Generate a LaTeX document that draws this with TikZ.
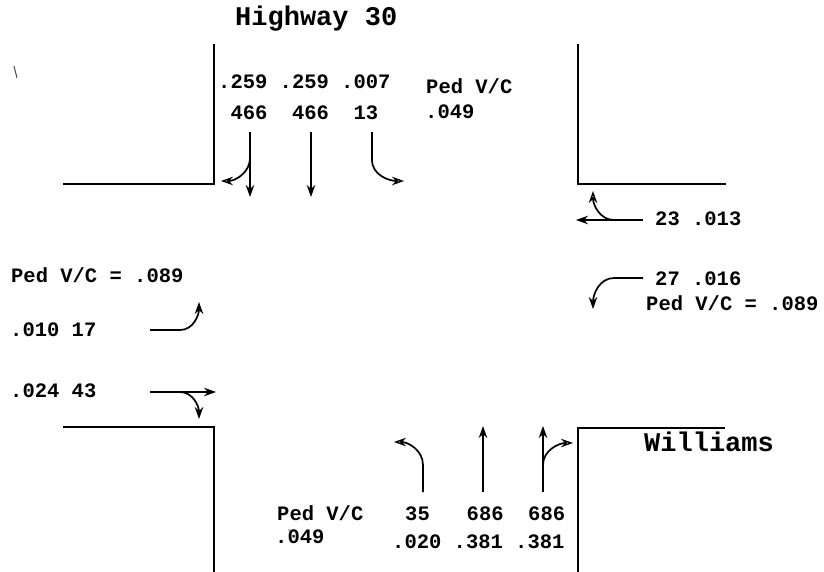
\documentclass[tikz,border=0pt]{standalone}
\usepackage{fontspec}
\setmainfont{Liberation Mono}
\usetikzlibrary{arrows.meta}
\begin{document}
\begin{tikzpicture}[x=1pt,y=-1pt,
  curb/.style={line width=1.8pt, line cap=rect, line join=miter},
  thru/.style={line width=1.7pt, -{Stealth[length=12pt,width=8.5pt]}},
  turn/.style={line width=1.7pt, -{Stealth[open,length=12pt,width=8.5pt,line width=1.4pt]}},
  lbl/.style={anchor=base west, inner sep=0pt, font=\fontsize{20.5}{24}\selectfont\bfseries},
  big/.style={anchor=base west, inner sep=0pt, font=\fontsize{27}{30}\selectfont\bfseries}]
\useasboundingbox (0,0) rectangle (824,571);
\fill[white] (0,0) rectangle (824,571);

% curbs
\draw[curb] (64,184) -- (214,184) -- (214,45);
\draw[curb] (578,45) -- (578,184) -- (725,184);
\draw[curb] (64,427) -- (214,427) -- (214,571);
\draw[curb] (578,571) -- (578,428) -- (724,428);

% street names
\node[big] (hwy) at (235,25) {Highway 30};
\node[big] (wil) at (644,451) {Williams};

% stray marks
\draw[line width=1pt, black!70] (14,66) -- (17,78);
\fill[black!60] (289,530) circle (0.9);

% southbound (top)
\node[lbl] (sv) at (218,88) {.259 .259 .007};
\node[lbl] (sq) at (218,119) {~466~~466~~13};
\node[lbl] (sp1) at (426,93) {Ped V/C};
\node[lbl] (sp2) at (425,118) {.049};
\coordinate (sL0) at (250,132); \coordinate (sL1) at (250,197);
\coordinate (sLb) at (250,158); \coordinate (sLt) at (221,181);
\draw[thru] (sL0) -- (sL1);
\draw[turn] (sLb) to[out=-90,in=0] (sLt);
\coordinate (sT0) at (311,132); \coordinate (sT1) at (311,197);
\draw[thru] (sT0) -- (sT1);
\coordinate (sR0) at (372,132); \coordinate (sR1) at (372,160); \coordinate (sRt) at (404,181);
\draw[turn] (sR0) -- (sR1) to[out=-90,in=180] (sRt);

% westbound (right)
\node[lbl] (w1) at (655,225) {23 .013};
\node[lbl] (w2) at (655,285) {27 .016};
\node[lbl] (wp) at (646,310) {Ped V/C = .089};
\coordinate (wT0) at (643,220); \coordinate (wT1) at (576,220);
\draw[thru] (wT0) -- (wT1);
\coordinate (wRb) at (614,220); \coordinate (wRt) at (593,191);
\draw[turn] (wRb) to[out=180,in=-90] (wRt);
\coordinate (wL0) at (643,278); \coordinate (wL1) at (614,278); \coordinate (wLt) at (593,309);
\draw[thru] (wL0) -- (wL1) to[out=180,in=90] (wLt);

% eastbound (left)
\node[lbl] (ep) at (11,282) {Ped V/C = .089};
\node[lbl] (e1) at (10,336) {.010 17};
\node[lbl] (e2) at (10,397) {.024 43};
\coordinate (eL0) at (150,330); \coordinate (eL1) at (180,330); \coordinate (eLt) at (199,302);
\draw[thru] (eL0) -- (eL1) to[out=0,in=-90] (eLt);
\coordinate (eT0) at (150,392); \coordinate (eT1) at (216,392);
\draw[thru] (eT0) -- (eT1);
\coordinate (eRb) at (180,392); \coordinate (eRt) at (199,419);
\draw[thru] (eRb) to[out=0,in=90] (eRt);

% northbound (bottom)
\node[lbl] (np1) at (277,520) {Ped V/C};
\node[lbl] (np2) at (275,543) {.049};
\node[lbl] (nq) at (405,520) {35~~~686~~686};
\node[lbl] (nv) at (392,548) {.020 .381 .381};
\coordinate (nL0) at (423,492); \coordinate (nL1) at (423,465); \coordinate (nLt) at (394,442);
\draw[turn] (nL0) -- (nL1) to[out=90,in=0] (nLt);
\coordinate (nT0) at (483,492); \coordinate (nT1) at (483,426);
\draw[thru] (nT0) -- (nT1);
\coordinate (nR0) at (543,492); \coordinate (nR1) at (543,426);
\draw[thru] (nR0) -- (nR1);
\coordinate (nRb) at (543,465); \coordinate (nRt) at (573,443);
\draw[turn] (nRb) to[out=90,in=180] (nRt);
\end{tikzpicture}
\end{document}
